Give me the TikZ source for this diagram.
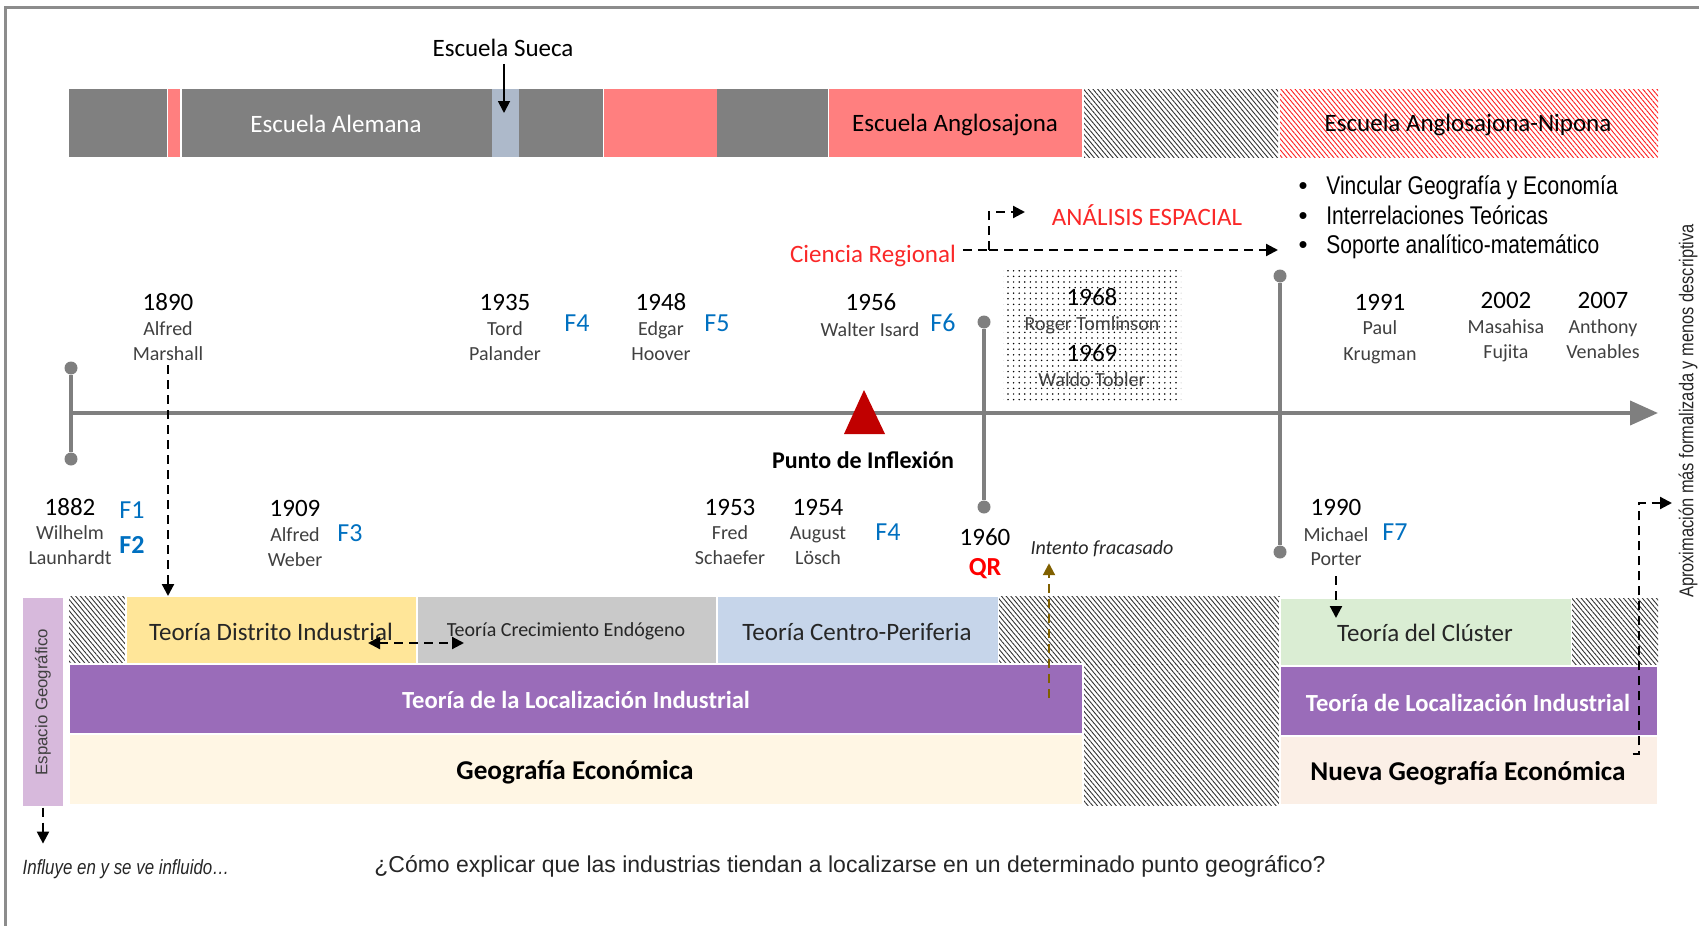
\documentclass[tikz,border=0pt]{standalone}
\usepackage{fontspec}
\setmainfont{Carlito}
\newfontfamily\arialf{Liberation Sans}
\newfontfamily\narrowf[FakeStretch=0.82]{Liberation Sans}
\usetikzlibrary{arrows.meta,patterns.meta}
\newcommand\fsz[1]{\fontsize{#1pt}{#1pt}\selectfont}
\definecolor{tlgray}{HTML}{7F7F7F}
\definecolor{framec}{HTML}{8C8C8C}
\definecolor{barg}{HTML}{808080}
\definecolor{pinkc}{HTML}{FF7F7F}
\definecolor{sueca}{HTML}{ADB9CA}
\definecolor{yel}{HTML}{FFE699}
\definecolor{grayb}{HTML}{C9C9C9}
\definecolor{blueb}{HTML}{C6D5EA}
\definecolor{greenb}{HTML}{DAEDD3}
\definecolor{purp}{HTML}{9A6CB9}
\definecolor{cream}{HTML}{FFF6E4}
\definecolor{peach}{HTML}{FBEFE6}
\definecolor{lav}{HTML}{D7B9DC}
\definecolor{fblue}{HTML}{0070C0}
\definecolor{redt}{HTML}{FA2828}
\definecolor{darkred}{HTML}{C00000}
\definecolor{olivec}{HTML}{806000}
\definecolor{namegray}{HTML}{404040}
\definecolor{espgray}{HTML}{404040}
\definecolor{hatchc}{HTML}{333333}
\definecolor{rhatchc}{HTML}{FF2020}
\begin{document}
\begin{tikzpicture}[x=0.5pt,y=-0.5pt,
  txt/.style={inner sep=0pt, anchor=base},
  yr/.style={txt, font=\fsz{12.5}},
  nm/.style={txt, font=\fsz{10}, text=namegray},
  fl/.style={txt, font=\fsz{13}, text=fblue},
  dsh/.style={line width=1.1pt, dash pattern=on 4.5pt off 3pt},
  dar/.style={dsh, -{Triangle[length=6pt,width=6pt]}},
  stem/.style={line width=1.8pt, draw=tlgray},
  knob/.style={circle, fill=tlgray, inner sep=0pt, minimum size=6.5pt},
  hatch/.style={pattern={Lines[angle=-50,distance=1.8pt,line width=0.45pt]}, pattern color=hatchc},
  rhatch/.style={pattern={Lines[angle=-50,distance=1.8pt,line width=0.45pt]}, pattern color=rhatchc},
  cell/.style={draw=white, line width=0.6pt},
  bul/.style={txt, font=\narrowf\fsz{12.8}, anchor=base west},
  bdot/.style={txt, font=\arialf\fsz{12.8}}
]
\useasboundingbox (0,0) rectangle (1699,926);
% frame
\draw[framec, line width=1.5pt] (5,926) -- (5,7) -- (1699,7);

% top bar
\fill[barg] (69,89) rectangle (167,157);
\fill[pinkc] (168,89) rectangle (180,157);
\fill[barg] (182,89) rectangle (492,157);
\fill[sueca] (492,89) rectangle (519,157);
\fill[barg] (519,89) rectangle (603,157);
\fill[pinkc] (604,89) rectangle (717,157);
\fill[barg] (717,89) rectangle (828,157);
\fill[pinkc] (829,89) rectangle (1082,157);
\fill[hatch] (1084,89) rectangle (1278,157);
\fill[rhatch] (1280,89) rectangle (1658,157);
\node[font=\fsz{12.5}, text=white] (alem) at (336,124) {Escuela Alemana};
\node[font=\fsz{12.5}] (anglo) at (955,125) {Escuela Anglosajona};
\node[font=\fsz{12.5}] (nip) at (1468,125) {Escuela Anglosajona-Nipona};
\node[font=\fsz{12.5}] (sueca) at (503,48) {Escuela Sueca};
\coordinate (suecaTip) at (504,113);
\draw[line width=0.9pt, -{Triangle[length=6pt,width=6pt]}] (sueca.south -| suecaTip) -- (suecaTip);

% bullets
\node[bdot] (d1) at (1303,194) {•};
\node[bdot] (d2) at (1303,224) {•};
\node[bdot] (d3) at (1303,253) {•};
\node[bul] (b1) at (1326,194) {Vincular Geografía y Economía};
\node[bul] (b2) at (1326,224) {Interrelaciones Teóricas};
\node[bul] (b3) at (1326,253) {Soporte analítico-matemático};

% Ciencia regional / analisis espacial
\node[font=\fsz{12.5}, text=redt] (cr) at (873,256) {Ciencia Regional};
\node[font=\fsz{12.5}, text=redt] (ae) at (1147,215) {ANÁLISIS ESPACIAL};
\coordinate (crj) at (989,250);
\coordinate (aeTip) at (1025,212);
\coordinate (bTip) at (1278,250);
\draw[dsh] (cr.east |- crj) -- (crj);
\draw[dar] (crj) |- (aeTip);
\draw[dar] (crj) -- (bTip);

% dotted box
\fill[pattern={Dots[distance=2.8pt,radius=0.42pt]}] (1003,270) rectangle (1181,403);

% timeline
\coordinate (ax0) at (71,413);
\coordinate (ax1) at (1658,413);
\draw[tlgray, line width=2pt, -{Triangle[length=14pt,width=12pt]}] (ax0) -- (ax1);
\node[knob] (k1a) at (71,368) {};
\node[knob] (k1b) at (71,459) {};
\draw[stem] (k1a) -- (k1b);
\node[knob] (k2a) at (984,322) {};
\node[knob] (k2b) at (984,507) {};
\draw[stem] (k2a) -- (k2b);
\node[knob] (k3a) at (1280,276) {};
\node[knob] (k3b) at (1280,552) {};
\draw[stem] (k3a) -- (k3b);
\fill[darkred] (844,434) -- (864,390) -- (885,434) -- cycle;
\node[txt, font=\bfseries\fsz{12}] (pdi) at (863,468) {Punto de Inflexión};

% upper events
\node[yr] (y1890) at (168,310) {1890};
\node[nm] (alfm) at (168,335.5) {Alfred};
\node[nm] (marshall) at (168,360.5) {Marshall};
\node[yr] (y1935) at (505,310) {1935};
\node[nm] (tord) at (505,335.5) {Tord};
\node[nm] (palander) at (505,360.5) {Palander};
\node[fl] (f4a) at (577,331.5) {F4};
\node[yr] (y1948) at (661,310) {1948};
\node[nm] (edgar) at (661,335.5) {Edgar};
\node[nm] (hoover) at (661,360.5) {Hoover};
\node[fl] (f5) at (717,331.5) {F5};
\node[yr] (y1956) at (871,310) {1956};
\node[nm] (isard) at (870,336.5) {Walter Isard};
\node[fl] (f6) at (943,331.5) {F6};
\node[yr] (y1968) at (1092,305) {1968};
\node[nm] (tomlinson) at (1092,330.5) {Roger Tomlinson};
\node[yr] (y1969) at (1092,361) {1969};
\node[nm] (tobler) at (1092,386.5) {Waldo Tobler};
\node[yr] (y1991) at (1380,310) {1991};
\node[nm] (paul) at (1380,334.5) {Paul};
\node[nm] (krugman) at (1380,360.5) {Krugman};
\node[yr] (y2002) at (1506,308) {2002};
\node[nm] (masahisa) at (1506,333.5) {Masahisa};
\node[nm] (fujita) at (1506,358.5) {Fujita};
\node[yr] (y2007) at (1603,308) {2007};
\node[nm] (anthony) at (1603,333.5) {Anthony};
\node[nm] (venables) at (1603,358.5) {Venables};

% lower events
\node[yr] (y1882) at (70,515) {1882};
\node[nm] (wilhelm) at (70,539.5) {Wilhelm};
\node[nm] (launhardt) at (70,564.5) {Launhardt};
\node[fl] (f1) at (132,518.5) {F1};
\node[fl, font=\bfseries\fsz{13}] (f2) at (132,553.5) {F2};
\node[yr] (y1909) at (295,516) {1909};
\node[nm] (alfw) at (295,541.5) {Alfred};
\node[nm] (weber) at (295,566.5) {Weber};
\node[fl] (f3) at (350,541.5) {F3};
\node[yr] (y1953) at (730,515) {1953};
\node[nm] (fred) at (730,539.5) {Fred};
\node[nm] (schaefer) at (730,564.5) {Schaefer};
\node[yr] (y1954) at (818,515) {1954};
\node[nm] (august) at (818,539.5) {August};
\node[nm] (losch) at (818,564.5) {Lösch};
\node[fl] (f4b) at (888,540.5) {F4};
\node[yr] (y1960) at (985,545) {1960};
\node[txt, font=\bfseries\fsz{13}, text=red] (qr) at (985,575) {QR};
\node[txt, font=\itshape\fsz{10}, text=black!85] (intento) at (1102,554.5) {Intento fracasado};
\node[yr] (y1990) at (1336,515) {1990};
\node[nm] (michael) at (1336,541.5) {Michael};
\node[nm] (porter) at (1336,565.5) {Porter};
\node[fl] (f7) at (1395,540.5) {F7};

% theory rows
\fill[hatch] (69,596) rectangle (126,664);
\path[cell, fill=yel] (126,596) rectangle (417,664);
\path[cell, fill=grayb] (417,596) rectangle (717,664);
\path[cell, fill=blueb] (717,596) rectangle (999,664);
\fill[hatch] (999,596) rectangle (1280,664);
\fill[hatch] (1083,664) rectangle (1280,805);
\path[cell, fill=greenb] (1280,598) rectangle (1572,666);
\fill[hatch] (1572,598) rectangle (1658,666);
\path[cell, fill=purp] (69,664) rectangle (1083,734);
\path[cell, fill=purp] (1280,666) rectangle (1658,736);
\path[cell, fill=cream] (69,734) rectangle (1083,805);
\path[cell, fill=peach] (1280,736) rectangle (1658,805);
\node[cell, fill=lav, minimum width=21pt, minimum height=105pt, inner sep=0pt] (espbox) at (43,702) {};
\node[rotate=90, font=\arialf\fsz{8.4}, text=espgray] (esp) at (43,702) {Espacio Geográfico};

\node[font=\fsz{12.5}, text=black!85] (tdi) at (271,632) {Teoría Distrito Industrial};
\node[font=\fsz{10}, text=black!85] (tce) at (566,631) {Teoría Crecimiento Endógeno};
\node[font=\fsz{12.5}, text=black!85] (tcp) at (857,632) {Teoría Centro-Periferia};
\node[font=\fsz{12.5}, text=black!85] (tcl) at (1425,633) {Teoría del Clúster};
\node[font=\bfseries\fsz{12.3}, text=white] (tli) at (576,700) {Teoría de la Localización Industrial};
\node[font=\bfseries\fsz{12.3}, text=white] (tli2) at (1468,703) {Teoría de Localización Industrial};
\node[font=\bfseries\fsz{13.6}] (ge) at (575,772) {Geografía Económica};
\node[font=\bfseries\fsz{13.6}] (nge) at (1468,773) {Nueva Geografía Económica};

% connectors
\coordinate (distTop) at (167,596);
\draw[dar, shorten <=2pt] (marshall.south) -- (marshall.south |- distTop);
\coordinate (da1) at (368,643);
\coordinate (da2) at (464,643);
\draw[dsh, {Triangle[length=6pt,width=6pt]}-{Triangle[length=6pt,width=6pt]}] (da1) -- (da2);
\coordinate (porterTip) at (1336,618);
\draw[dar, shorten <=5pt] (porter.south) -- (porter.south |- porterTip);
\coordinate (olStart) at (1049,698);
\draw[dar, olivec, shorten >=3pt] (olStart) -- (olStart |- intento.south);
\draw[dar] (espbox.south) -- ++(0,36);
\coordinate (rc) at (1639,503);
\coordinate (rt) at (1672,503);
\draw[dar] (nge.north east) -| (rc) -- (rt);

% side and bottom texts
\node[rotate=90, font=\narrowf\fsz{10}, text=black!85] (aprox) at (1688,411) {Aproximación más formalizada y menos descriptiva};
\node[font=\narrowf\itshape\fsz{10.3}, text=black!85] (inf) at (126,869) {Influye en y se ve influido…};
\node[font=\arialf\fsz{11.5}, text=black!85] (q) at (850,866) {¿Cómo explicar que las industrias tiendan a localizarse en un determinado punto geográfico?};
\end{tikzpicture}
\end{document}
